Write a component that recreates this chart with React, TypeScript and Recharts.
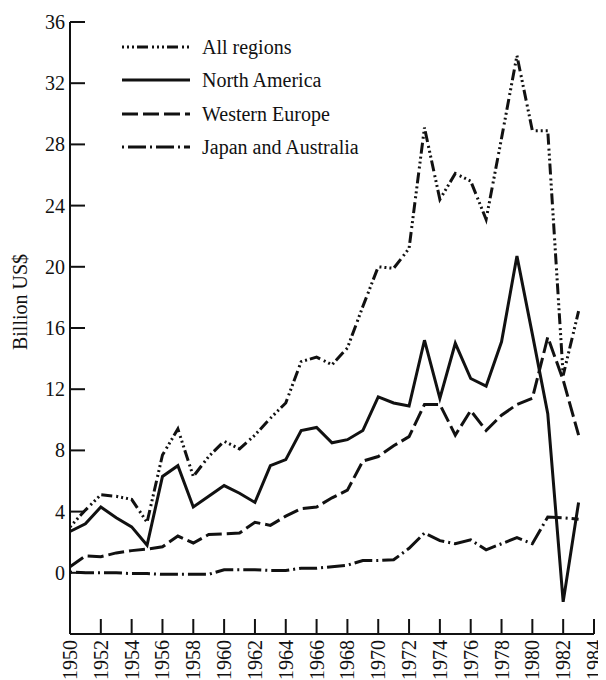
import React from 'react';
import { LineChart, Line, XAxis, YAxis, Legend } from 'recharts';

const years = [1950,1951,1952,1953,1954,1955,1956,1957,1958,1959,1960,1961,1962,1963,1964,1965,1966,1967,1968,1969,1970,1971,1972,1973,1974,1975,1976,1977,1978,1979,1980,1981,1982,1983];
const allRegions = [3.0,4.1,5.1,5.0,4.8,3.3,7.7,9.4,6.3,7.6,8.6,8.1,9.0,10.1,11.1,13.8,14.1,13.6,14.7,17.4,20.0,19.9,21.2,29.1,24.4,26.1,25.6,23.1,28.4,33.8,28.9,28.9,12.9,17.1];
const northAmerica = [2.7,3.2,4.3,3.6,3.0,1.8,6.3,7.0,4.3,5.0,5.7,5.2,4.6,7.0,7.4,9.3,9.5,8.5,8.7,9.3,11.5,11.1,10.9,15.2,11.4,15.0,12.7,12.2,15.1,20.7,15.6,10.4,-1.9,4.6];
const westernEurope = [0.4,1.1,1.05,1.3,1.45,1.55,1.7,2.4,1.95,2.5,2.55,2.6,3.3,3.1,3.7,4.2,4.3,4.9,5.4,7.3,7.6,8.3,8.9,11.0,11.0,9.0,10.6,9.3,10.3,11.0,11.4,15.4,12.6,9.0];
const japanAustralia = [0.05,0.0,0.0,0.0,-0.05,-0.05,-0.1,-0.1,-0.1,-0.1,0.2,0.2,0.2,0.15,0.15,0.3,0.3,0.4,0.5,0.8,0.8,0.85,1.6,2.6,2.1,1.9,2.15,1.5,1.9,2.3,1.9,3.65,3.6,3.5];

const xTicks = [1950,1952,1954,1956,1958,1960,1962,1964,1966,1968,1970,1972,1974,1976,1978,1980,1982,1984];
const yTicks = [0,4,8,12,16,20,24,28,32,36];

const seriesNames = ['All regions', 'North America', 'Western Europe', 'Japan and Australia'];
const seriesKeys = ['all', 'na', 'we', 'ja'];
const seriesDash = ['2 3 2 3 2 3 11 4', '', '16 5', '2 4 18 4'];

const data = years.map((y, i) => ({
  year: y,
  all: allRegions[i],
  na: northAmerica[i],
  we: westernEurope[i],
  ja: japanAustralia[i],
}));

const INK = '#111';
const FONT = '"Liberation Serif", "Times New Roman", serif';

const YTick = (props: any) => {
  const { x, y, payload } = props;
  return (
    <g>
      <line x1={x} x2={x + 15} y1={y} y2={y} stroke={INK} strokeWidth={2} />
      <text x={x - 5} y={y} dy="0.35em" textAnchor="end" fontFamily={FONT} fontSize={20} fill={INK}>
        {payload.value}
      </text>
    </g>
  );
};

const XTick = (props: any) => {
  const { x, y, payload } = props;
  return (
    <g>
      <line x1={x} x2={x} y1={y} y2={y - 15} stroke={INK} strokeWidth={2} />
      <g transform={`translate(${x},${y + 6}) rotate(-90)`}>
        <text x={0} y={0} dy="0.35em" textAnchor="end" fontFamily={FONT} fontSize={20} fill={INK}>
          {payload.value}
        </text>
      </g>
    </g>
  );
};

const LegendContent = () => (
  <div style={{ fontFamily: FONT, fontSize: 20, color: INK }}>
    {seriesNames.map((name, i) => (
      <div key={name} style={{ display: 'flex', alignItems: 'center', height: 33.5 }}>
        <svg width={68} height={8} style={{ display: 'block' }}>
          <line x1={0} x2={68} y1={4} y2={4} stroke={INK} strokeWidth={3} strokeDasharray={seriesDash[i] || undefined} />
        </svg>
        <span style={{ marginLeft: 12, lineHeight: 1, whiteSpace: 'nowrap' }}>{name}</span>
      </div>
    ))}
  </div>
);

export default function App() {
  return (
    <LineChart width={598} height={672} data={data} margin={{ top: 14, right: 12, bottom: 0, left: 0 }}>
      <XAxis
        dataKey="year"
        type="number"
        domain={[1950, 1984]}
        ticks={xTicks}
        interval={0}
        height={46}
        tickSize={0}
        tickMargin={0}
        tickLine={false}
        axisLine={{ stroke: INK, strokeWidth: 2 }}
        tick={<XTick />}
      />
      <YAxis
        type="number"
        domain={[-4, 36]}
        ticks={yTicks}
        interval={0}
        width={62}
        tickSize={0}
        tickMargin={0}
        tickLine={false}
        axisLine={{ stroke: INK, strokeWidth: 2 }}
        tick={<YTick />}
        label={{
          content: () => (
            <text
              transform="translate(12,294) rotate(-90)"
              x={0}
              y={0}
              dy="0.35em"
              textAnchor="middle"
              fontFamily={FONT}
              fontSize={20}
              fill={INK}
            >
              Billion US$
            </text>
          ),
        }}
      />
      <Legend
        layout="vertical"
        align="center"
        verticalAlign="middle"
        content={<LegendContent />}
        wrapperStyle={{ left: 114, top: 22, width: 320, height: 140 }}
      />
      {seriesKeys.map((k, i) => (
        <Line
          key={k}
          type="linear"
          dataKey={k}
          name={seriesNames[i]}
          stroke={INK}
          strokeWidth={3}
          strokeDasharray={seriesDash[i] || undefined}
          dot={false}
          activeDot={false}
          isAnimationActive={false}
        />
      ))}
    </LineChart>
  );
}
